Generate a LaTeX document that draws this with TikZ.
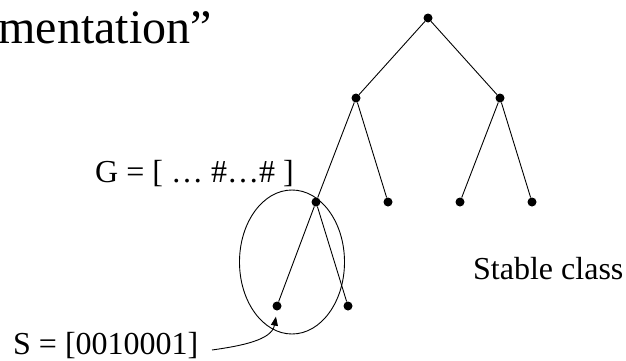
\documentclass[tikz,border=0pt]{standalone}
\usepackage{fontspec}
\setmainfont{Liberation Serif}
\usetikzlibrary{arrows.meta, positioning, shapes.geometric}

\begin{document}
\begin{tikzpicture}[
        x=1pt, y=1pt,
        font=\fontsize{32}{38}\selectfont,
        dot/.style={
            circle,
            fill=black,
            inner sep=0pt,
            minimum size=9pt
        },
        edge/.style={
            draw,
            line width=0.9pt
        },
        group/.style={
            draw,
            ellipse,
            line width=0.9pt,
            minimum width=105pt,
            minimum height=144pt,
            inner sep=0pt
        },
        labeltext/.style={
            anchor=base west,
            inner sep=0pt,
            text=black
        },
        pointer/.style={
            -{Triangle[length=9pt, width=7pt]},
            line width=0.9pt
        }
    ]

    \useasboundingbox (0,0) rectangle (626,360);

    \node[labeltext, anchor=base east, font=\fontsize{48}{56}\selectfont]
        (title) at (212,317) {mentation''};

    \node[dot] (root) at (428,342) {};
    \node[dot] (left) at (356,262) {};
    \node[dot] (right) at (500,262) {};
    \node[dot] (leftleft) at (316,158) {};
    \node[dot] (leftright) at (388,158) {};
    \node[dot] (rightleft) at (460,158) {};
    \node[dot] (rightright) at (532,158) {};
    \node[dot] (sleaf) at (277,54) {};
    \node[dot] (sother) at (348,54) {};

    \node[group] (cluster) at (292,98) {};

    \node[labeltext] (glabel) at (95,178) {G = [ \dots{} \#\dots\# ]};
    \node[labeltext] (slabel) at (13,6) {S = [0010001]};
    \node[labeltext] (stable) at (473,81) {Stable class};

    \draw[edge] (root) -- (left);
    \draw[edge] (root) -- (right);
    \draw[edge] (left) -- (leftleft);
    \draw[edge] (left) -- (leftright);
    \draw[edge] (right) -- (rightleft);
    \draw[edge] (right) -- (rightright);
    \draw[edge] (leftleft) -- (sleaf);
    \draw[edge] (leftleft) -- (sother);

    \coordinate (stail) at (212,10);
    \draw[pointer, shorten >=6pt] (stail) to[out=8, in=-100] (sleaf.south);

    \end{tikzpicture}
\end{document}
